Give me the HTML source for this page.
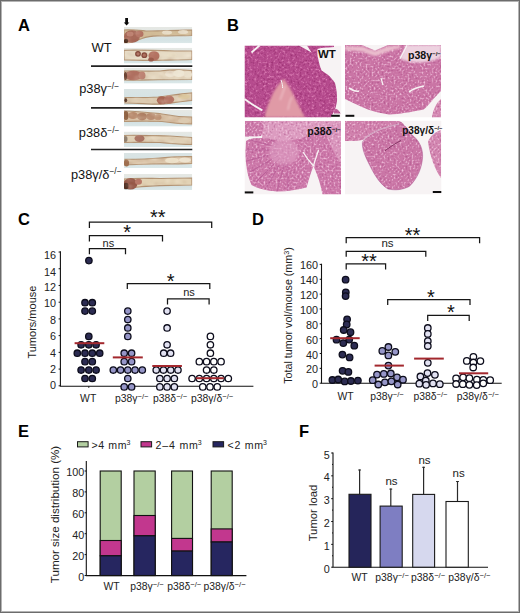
<!DOCTYPE html><html><head><meta charset="utf-8"><style>html,body{margin:0;padding:0;background:#fff;} svg{display:block} text{font-family:'Liberation Sans',sans-serif}</style></head><body>
<svg width="520" height="613" viewBox="0 0 520 613">
<defs>
<filter id="soft" x="0" y="0" width="100%" height="100%"><feGaussianBlur stdDeviation="0.35"/></filter>
<filter id="blur1" x="-10%" y="-10%" width="120%" height="120%"><feGaussianBlur stdDeviation="0.8"/></filter>
<filter id="blur2" x="-10%" y="-10%" width="120%" height="120%"><feGaussianBlur stdDeviation="1.2"/></filter>
<filter id="tex" x="0" y="0" width="100%" height="100%" color-interpolation-filters="sRGB">
 <feTurbulence type="fractalNoise" baseFrequency="0.42" numOctaves="3" seed="5" result="n"/>
 <feColorMatrix in="n" type="matrix" values="0 0 0 0 0.95  0 0 0 0 0.62  0 0 0 0 0.80  2.1 0 0 0 -1.16" result="lt"/>
 <feColorMatrix in="n" type="matrix" values="0 0 0 0 0.56  0 0 0 0 0.14  0 0 0 0 0.40  -2.2 0 0 0 0.98" result="dk"/>
 <feMerge result="ov"><feMergeNode in="dk"/><feMergeNode in="lt"/></feMerge>
 <feGaussianBlur in="ov" stdDeviation="0.6" result="ovb"/>
 <feComposite in="ovb" in2="SourceGraphic" operator="in" result="ov2"/>
 <feMerge><feMergeNode in="SourceGraphic"/><feMergeNode in="ov2"/></feMerge>
</filter>
<filter id="texB" x="0" y="0" width="100%" height="100%" color-interpolation-filters="sRGB">
 <feTurbulence type="fractalNoise" baseFrequency="0.5" numOctaves="3" seed="9" result="n"/>
 <feColorMatrix in="n" type="matrix" values="0 0 0 0 0.98  0 0 0 0 0.84  0 0 0 0 0.92  2.6 0 0 0 -1.36" result="lt"/>
 <feColorMatrix in="n" type="matrix" values="0 0 0 0 0.62  0 0 0 0 0.24  0 0 0 0 0.48  -2.0 0 0 0 0.82" result="dk"/>
 <feMerge result="ov"><feMergeNode in="dk"/><feMergeNode in="lt"/></feMerge>
 <feGaussianBlur in="ov" stdDeviation="0.5" result="ovb"/>
 <feComposite in="ovb" in2="SourceGraphic" operator="in" result="ov2"/>
 <feMerge><feMergeNode in="SourceGraphic"/><feMergeNode in="ov2"/></feMerge>
</filter>
<filter id="texP" x="-5%" y="-5%" width="110%" height="110%" color-interpolation-filters="sRGB">
 <feGaussianBlur in="SourceGraphic" stdDeviation="0.7" result="b"/>
 <feTurbulence type="fractalNoise" baseFrequency="0.12 0.35" numOctaves="2" seed="21" result="n"/>
 <feColorMatrix in="n" type="matrix" values="0 0 0 0 1  0 0 0 0 0.97  0 0 0 0 0.92  1.5 0 0 0 -0.82" result="lt"/>
 <feColorMatrix in="n" type="matrix" values="0 0 0 0 0.6  0 0 0 0 0.42  0 0 0 0 0.32  -1.5 0 0 0 0.6" result="dk"/>
 <feMerge result="ov"><feMergeNode in="dk"/><feMergeNode in="lt"/></feMerge>
 <feGaussianBlur in="ov" stdDeviation="0.8" result="ovb"/>
 <feComposite in="ovb" in2="b" operator="in" result="ov2"/>
 <feMerge><feMergeNode in="b"/><feMergeNode in="ov2"/></feMerge>
</filter>
</defs>
<rect x="0" y="0" width="520" height="613" fill="#fff"/>
<text x="18" y="30.5" font-size="16.5" text-anchor="start" font-weight="bold" fill="#000" >A</text>
<text x="227" y="30.5" font-size="16.5" text-anchor="start" font-weight="bold" fill="#000" >B</text>
<text x="18" y="225" font-size="16.5" text-anchor="start" font-weight="bold" fill="#000" >C</text>
<text x="252" y="225" font-size="16.5" text-anchor="start" font-weight="bold" fill="#000" >D</text>
<text x="18" y="437" font-size="16.5" text-anchor="start" font-weight="bold" fill="#000" >E</text>
<text x="299" y="437" font-size="16.5" text-anchor="start" font-weight="bold" fill="#000" >F</text>
<text x="91.5" y="51.8" font-size="13" text-anchor="start" font-weight="normal" fill="#111" >WT</text>
<text x="79.2" y="93.3" font-size="12.8" text-anchor="start" fill="#111">p38γ<tspan font-size="8.4" dy="-4.20">−/−</tspan></text>
<text x="78.8" y="137.2" font-size="12.8" text-anchor="start" fill="#111">p38δ<tspan font-size="8.4" dy="-4.20">−/−</tspan></text>
<text x="71.0" y="178.6" font-size="12.8" text-anchor="start" fill="#111">p38γ/δ<tspan font-size="8.4" dy="-4.20">−/−</tspan></text>
<line x1="91" y1="66.1" x2="192.3" y2="66.1" stroke="#222" stroke-width="1.7"/>
<line x1="91" y1="107.8" x2="192.3" y2="107.8" stroke="#222" stroke-width="1.7"/>
<line x1="91" y1="149.5" x2="192.3" y2="149.5" stroke="#222" stroke-width="1.7"/>
<path d="M125.2,17.9 h2.8 v4.6 h1.4 l-2.8,2.9 l-2.8,-2.9 h1.4 z" fill="#0a0a0a"/>
<defs><linearGradient id="sbg" x1="0" y1="0" x2="0" y2="1"><stop offset="0" stop-color="#e6e8e4"/><stop offset="0.4" stop-color="#e0e7e5"/><stop offset="0.75" stop-color="#d4e2e4"/><stop offset="1" stop-color="#dce8e8"/></linearGradient><linearGradient id="sbg2" x1="0" y1="0" x2="0" y2="1"><stop offset="0" stop-color="#dae4e4"/><stop offset="0.5" stop-color="#d6e3e4"/><stop offset="1" stop-color="#dae7e8"/></linearGradient><clipPath id="sclip"><rect x="124" y="0" width="68.2" height="200"/></clipPath></defs>
<g clip-path="url(#sclip)"><svg x="124" y="27" width="68.2" height="16.200000000000003" viewBox="124 27 68.2 16.200000000000003" preserveAspectRatio="none" overflow="hidden">
<rect x="124" y="27" width="68.2" height="16.200000000000003" fill="url(#sbg)"/>
<g filter="url(#texP)">
<path d="M124,30 C132,29.5 140,30.5 146,31 C160,31 175,30.5 192,30 L192,35.5 C182,36 172,35.5 163,36 C155,35.5 148,36 142,38.5 C137,40.5 132,42 128,43.2 L124,43.2 Z" fill="#d2bc98" stroke="#b39474" stroke-width="1.2"/>
<ellipse cx="167" cy="32.5" rx="5" ry="2" fill="#e8dcc6"/>
<ellipse cx="183" cy="32" rx="5" ry="2" fill="#e6dac4"/>
<ellipse cx="132" cy="36.5" rx="8" ry="6.2" fill="#a66656"/>
<ellipse cx="139.5" cy="34" rx="4" ry="3.3" fill="#b47464"/>
<ellipse cx="130" cy="34" rx="3.5" ry="2.5" fill="#c08474"/>
<ellipse cx="126" cy="41" rx="2.2" ry="2.2" fill="#4a2a1c"/>
</g></svg></g>
<g clip-path="url(#sclip)"><svg x="124" y="47.8" width="68.2" height="15.800000000000004" viewBox="124 47.8 68.2 15.800000000000004" preserveAspectRatio="none" overflow="hidden">
<rect x="124" y="47.8" width="68.2" height="15.800000000000004" fill="url(#sbg)"/>
<g filter="url(#texP)">
<path d="M124,50.3 C140,50 160,50.5 175,51 C182,51 188,51 192,51 L192,59.5 C180,60 165,60 150,60.3 C140,60.3 130,60 124,60 Z" fill="#e6dac4" stroke="#b39474" stroke-width="1.2"/>
<ellipse cx="172" cy="55" rx="5" ry="2.5" fill="#e8dcc4"/>
<ellipse cx="138" cy="53.8" rx="2.9" ry="2.9" fill="#7c3e30"/>
<ellipse cx="138" cy="53.8" rx="1.6" ry="1.6" fill="#a86656"/>
<ellipse cx="144.3" cy="55.2" rx="2.9" ry="2.9" fill="#84463a"/>
<ellipse cx="144.3" cy="55.2" rx="1.6" ry="1.6" fill="#b07060"/>
<ellipse cx="154" cy="56" rx="5.5" ry="4.8" fill="#b47262"/>
<ellipse cx="151" cy="59.5" rx="2.8" ry="2" fill="#9a5a4a"/>
</g></svg></g>
<g clip-path="url(#sclip)"><svg x="124" y="67.8" width="68.2" height="15.799999999999997" viewBox="124 67.8 68.2 15.799999999999997" preserveAspectRatio="none" overflow="hidden">
<rect x="124" y="67.8" width="68.2" height="15.799999999999997" fill="url(#sbg)"/>
<g filter="url(#texP)">
<path d="M124,71.2 C135,70.5 150,71.5 160,71 C170,69.5 180,69.5 192,70.5 L192,79.5 C180,79.5 165,79.5 150,79.8 C140,80 130,80.2 124,80 Z" fill="#e4d6be" stroke="#b39474" stroke-width="1.2"/>
<ellipse cx="170" cy="74" rx="5" ry="3.2" fill="#ece2d0"/>
<ellipse cx="179" cy="73.5" rx="6" ry="3.6" fill="#eee6d4"/>
<ellipse cx="188" cy="74.5" rx="4" ry="3.2" fill="#eae0cc"/>
<ellipse cx="133.5" cy="75.5" rx="9" ry="4.8" fill="#b07060"/>
<ellipse cx="142" cy="75.5" rx="3.5" ry="4" fill="#be8474"/>
<ellipse cx="125.5" cy="76" rx="1.6" ry="4" fill="#6a4030"/>
</g></svg></g>
<g clip-path="url(#sclip)"><svg x="124" y="89" width="68.2" height="16" viewBox="124 89 68.2 16" preserveAspectRatio="none" overflow="hidden">
<rect x="124" y="89" width="68.2" height="16" fill="url(#sbg2)"/>
<g filter="url(#texP)">
<path d="M125,97.5 C140,97.5 150,97.6 158,97 C170,95.5 180,93.8 192,92.8 L192,100.5 C180,101.5 170,103.5 160,104.2 C145,103.8 135,103 125,103 Z" fill="#dccab0" stroke="#b39474" stroke-width="1.2"/>
<ellipse cx="184" cy="96.5" rx="6" ry="2.5" fill="#dcc8a0"/>
<ellipse cx="162" cy="100.3" rx="5.2" ry="4" fill="#a66250"/>
<ellipse cx="169" cy="99.6" rx="5.2" ry="4" fill="#b47464"/>
<ellipse cx="125.8" cy="100.2" rx="1.4" ry="2" fill="#5a3a2a"/>
</g></svg></g>
<g clip-path="url(#sclip)"><svg x="124" y="110" width="68.2" height="16.599999999999994" viewBox="124 110 68.2 16.599999999999994" preserveAspectRatio="none" overflow="hidden">
<rect x="124" y="110" width="68.2" height="16.599999999999994" fill="url(#sbg)"/>
<g filter="url(#texP)">
<path d="M124,111 C140,111.5 152,113 162,114 C172,116 180,117 192,117 L192,124 C180,124 172,123 162,121.5 C150,121 135,121 124,121.5 Z" fill="#d8c0a4" stroke="#b39474" stroke-width="1.2"/>
<ellipse cx="184" cy="120.5" rx="6" ry="2.8" fill="#dccab0"/>
<ellipse cx="126" cy="115.5" rx="2.5" ry="4.5" fill="#8e6040"/>
<ellipse cx="133" cy="115.5" rx="5" ry="3.6" fill="#b88a6c"/>
<ellipse cx="142" cy="116.5" rx="5" ry="3.8" fill="#b08266"/>
<ellipse cx="151" cy="116.5" rx="4.5" ry="3.4" fill="#b88c70"/>
<ellipse cx="158" cy="117.3" rx="3.5" ry="3" fill="#c09678"/>
</g></svg></g>
<g clip-path="url(#sclip)"><svg x="124" y="131.6" width="68.2" height="15.400000000000006" viewBox="124 131.6 68.2 15.400000000000006" preserveAspectRatio="none" overflow="hidden">
<rect x="124" y="131.6" width="68.2" height="15.400000000000006" fill="url(#sbg)"/>
<g filter="url(#texP)">
<path d="M124,135.5 C140,135 155,135.8 170,136 C180,136.5 186,137 192,137.5 L192,144.5 C180,144.5 170,143.5 160,142.5 C145,142.3 135,142.5 124,142.5 Z" fill="#e0d0b6" stroke="#b39474" stroke-width="1.2"/>
<ellipse cx="139.5" cy="138.5" rx="5" ry="3.4" fill="#a87060"/>
<ellipse cx="125.5" cy="139" rx="2" ry="3" fill="#908070"/>
</g></svg></g>
<g clip-path="url(#sclip)"><svg x="124" y="153" width="68.2" height="15" viewBox="124 153 68.2 15" preserveAspectRatio="none" overflow="hidden">
<rect x="124" y="153" width="68.2" height="15" fill="url(#sbg2)"/>
<g filter="url(#texP)">
<path d="M125,159.3 C140,159.3 150,159 160,158 C172,157 182,156.5 192,156.7 L192,163.5 C180,163.7 170,163.9 160,163.9 C145,164.1 135,164 125,165 Z" fill="#dcc6aa" stroke="#b39474" stroke-width="1.2"/>
<ellipse cx="172" cy="160.5" rx="7" ry="2.8" fill="#ece0c8"/>
<ellipse cx="185" cy="160" rx="6" ry="2.6" fill="#eee4d0"/>
<ellipse cx="126.5" cy="163" rx="2.6" ry="3.6" fill="#a07050"/>
</g></svg></g>
<g clip-path="url(#sclip)"><svg x="124" y="174" width="68.2" height="16" viewBox="124 174 68.2 16" preserveAspectRatio="none" overflow="hidden">
<rect x="124" y="174" width="68.2" height="16" fill="url(#sbg)"/>
<g filter="url(#texP)">
<path d="M124,179 C135,178 150,178.5 160,178.5 C172,178 182,178 192,178 L192,185 C180,185.2 170,185.4 160,185.6 C150,186 140,186.5 124,188.5 Z" fill="#e2d2b4" stroke="#b39474" stroke-width="1.2"/>
<ellipse cx="130.5" cy="183.8" rx="7" ry="5.8" fill="#945646"/>
<ellipse cx="126" cy="186" rx="2.5" ry="3.2" fill="#4e2c20"/>
<ellipse cx="138.5" cy="181.8" rx="3.5" ry="3" fill="#b87868"/>
</g></svg></g>
<svg x="244.5" y="45.5" width="97" height="72" viewBox="244.5 45.5 97 72" overflow="hidden">
<rect x="244.5" y="45.5" width="97" height="72" fill="#f7f3f4"/>
<g filter="url(#soft)">

<g filter="url(#tex)">
<path d="M244.5,45.5 L334,45.5 L334,47 C326,47.5 320,48 317.5,49 C317,53 317.5,56 318,58 C319,63 320,67 321.6,70.6 C324,72.5 326,73.5 327.8,74.7 C330.5,77 333,80 335,83 C336.5,89 337.3,95 337,101 C336.5,105 335.5,108 334,111.4 C332.5,114 331.5,116 331,117.5 L244.5,117.5 Z" fill="#b64c8e"/>
<path d="M334,109 C336,108 339,110 340.5,113.5 L334,113.5 Z" fill="#c0609a"/>
</g>
<g filter="url(#blur1)">
<path d="M264.5,117.5 C266,110 268,104 270,100 C272,95 274,91 276,88 C279,84 282,80 284,79 C287,83 290,88 292,92 C294.5,97 296.5,101 298,104 C300.5,109 303,114 305,117.5 Z" fill="#e09aa6"/>
<path d="M280,100 C282,95 284,90 285,86 M288,110 C289,104 290,100 292,97" stroke="#eec2c8" stroke-width="1.2" fill="none"/>
</g>
<path d="M251.5,52.5 L259.5,45.5" stroke="#f7f3f4" stroke-width="1.8"/>
<path d="M299,45.5 L307,45.5 L311.5,52.6 Z" fill="#f7f3f4"/>
<path d="M244.5,99 C250,103 256,107 262.4,110.4" stroke="#f7f3f4" stroke-width="1.8" fill="none"/>
<path d="M281,80 C282,83 283,86 282.5,88" stroke="#f7f3f4" stroke-width="1.0" fill="none"/>
<rect x="331.2" y="114.8" width="8.6" height="2" fill="#111"/>

</g>
</svg>
<text x="318" y="58.4" font-size="11.5" text-anchor="start" font-weight="bold" fill="#111" >WT</text>
<svg x="345" y="45" width="96" height="72.5" viewBox="345 45 96 72.5" overflow="hidden">
<rect x="345" y="45" width="96" height="72.5" fill="#f7f3f4"/>
<g filter="url(#soft)">

<g filter="url(#texB)">
<path d="M345,45 L441,45 L441,91 C437,95 434,98 431.8,101 C428,105 426,108 423.6,109.4 C410,112 400,114 389,114.5 C378,113 368,110 362,107 C355,104 350,101 345,99 Z" fill="#ca74a5"/>
<path d="M432,117.5 C433,110 436,103 441,99 L441,117.5 Z" fill="#d286b0"/>
</g>
<path d="M345,46.5 L362,46.5 C366,48 371,50 375,51 C379,50 383,48 387,46.5 L400,45.5 L400,48.5 C394,49.5 389,51 385,52.5 C381,54 378,55.5 375,56 C371,55.5 367,53.5 363,51.8 C357,50.8 351,50.5 345,50.5 Z" fill="#eabdcd" filter="url(#blur1)"/>
<path d="M362,45 L375,50.6 L388,45 Z" fill="#f7f3f4"/>
<path d="M406,45 L441,45 L441,57 C436,60 430,62 420,62.5 C412,62.5 405,61 400,58.8 Z" fill="#edd2e0" filter="url(#blur1)"/>
<path d="M407,45.2 L400,58.8" stroke="#f7f3f4" stroke-width="1.4"/>
<path d="M349,88 C352,90 355,92 359,91" stroke="#f7f3f4" stroke-width="1.6" fill="none"/>
<path d="M409,92 C413,89 418,87 424,86" stroke="#f7f3f4" stroke-width="1.6" fill="none"/>
<path d="M381,78 L383,85" stroke="#f7f3f4" stroke-width="1.2" fill="none"/>
<rect x="345.5" y="114.8" width="8.8" height="2" fill="#111"/>

</g>
</svg>
<text x="408" y="59.3" font-size="10.6" text-anchor="start" fill="#111"><tspan font-weight="bold">p38γ</tspan><tspan font-size="6" dy="-3.80"><tspan font-weight="bold">−/−</tspan></tspan></text>
<svg x="244.5" y="120.5" width="96.5" height="74.1" viewBox="244.5 120.5 96.5 74.1" overflow="hidden">
<rect x="244.5" y="120.5" width="96.5" height="74.1" fill="#f7f3f4"/>
<g filter="url(#soft)">

<g filter="url(#texB)">
<path d="M262,121 L341,121 L341,132 C330,134 320,137 310,138 C300,140 290,141 280,140 C272,139.5 266,139 262,138.5 Z" fill="#dc9cc0"/>
<path d="M245,121 L262,121 C264,126 264,132 261,136 C256,137 250,137 245,136.5 Z" fill="#cc7aaa"/>
<path d="M246,141 C250,138.5 256,137.5 264,138.3 C272,139 282,141 292,140 C302,139 312,134 322,130 C330,127 336,126 341,126 L341,194.6 L322.5,194.6 C321,186 318,176 313.5,166 C310.5,173 308.5,181 306.5,187.6 C298,190 288,191.5 277,191.5 C266,190.8 257,188.5 251.5,185 C247.5,176 245.5,165 245.5,152 Z" fill="#cc78a9"/>
<path d="M326,125 C333,124 338,124 341,124 L341,165 C337,158 333,150 329,142 C326,136 324,130 326,125 Z" fill="#d995bc"/>
</g>
<clipPath id="dclip"><path d="M246,141 C250,138.5 256,137.5 264,138.3 C272,139 282,141 292,140 C302,139 312,134 322,130 C330,127 336,126 341,126 L341,194.6 L322.5,194.6 C321,186 318,176 313.5,166 C310.5,173 308.5,181 306.5,187.6 C298,190 288,191.5 277,191.5 C266,190.8 257,188.5 251.5,185 C247.5,176 245.5,165 245.5,152 Z"/></clipPath>
<g clip-path="url(#dclip)"><path d="M277.6,144.0 L249.0,127.5 M276.4,146.9 L244.5,138.4 M276.0,150.0 L243.0,150.0 M276.4,153.1 L244.5,161.6 M277.6,156.0 L249.0,172.5 M279.5,158.5 L256.2,181.8 M282.0,160.4 L265.5,189.0 M284.9,161.6 L276.4,193.5 M288.0,162.0 L288.0,195.0" stroke="#9c3c80" stroke-width="0.8" opacity="0.45" fill="none"/>
</g>
<ellipse cx="284" cy="152" rx="15" ry="13" fill="#e2a6c8" opacity="0.55" filter="url(#blur2)"/>
<path d="M249,137 C253,137.3 257,137.5 261,137.2" stroke="#f7f3f4" stroke-width="1.3" fill="none"/>
<path d="M303,152 C306,157 309,161 313.5,166 M313.5,166 C315,160 317,155 318.5,150" stroke="#f7f3f4" stroke-width="1.3" fill="none"/>
<rect x="244.5" y="191.4" width="8.8" height="2" fill="#111"/>

</g>
</svg>
<text x="307.3" y="135.1" font-size="10.6" text-anchor="start" fill="#111"><tspan font-weight="bold">p38δ</tspan><tspan font-size="6" dy="-3.60"><tspan font-weight="bold">−/−</tspan></tspan></text>
<svg x="345" y="120.5" width="96.5" height="74.1" viewBox="345 120.5 96.5 74.1" overflow="hidden">
<rect x="345" y="120.5" width="96.5" height="74.1" fill="#f7f3f4"/>
<g filter="url(#soft)">

<g filter="url(#texB)">
<path d="M345,121 L399,121 C404,123 406,126 402,129 C395,131 385,133 376,136 C368,139 360,141 350,141 L345,141 Z" fill="#d080ac"/>
<path d="M362.4,142.5 C365,135 380,128 399,124 C405,124 409,130 411.4,134.4 C419,140 423,148 422.6,157 C422,167 418,178 409.3,186.4 C402,190 395,190.5 388,189 C381,185 375,176 370.6,167 C366,158 362,150 362.4,142.5 Z" fill="#ca76a6"/>
<path d="M441,130 L441,178 C435,170 430,156 428,142 C430,136 435,132 441,130 Z" fill="#d286b0"/>
</g>
<path d="M385,150.7 C390,147 396,143 401,140.5" stroke="#7a2a5a" stroke-width="0.9" fill="none"/>
<path d="M362.4,142.5 C365,135 380,128 399,124" stroke="#f3e6ec" stroke-width="1.1" fill="none"/>
<path d="M362.4,142.5 C365,135 380,128 399,124 C405,124 409,130 411.4,134.4 C419,140 423,148 422.6,157 C422,167 418,178 409.3,186.4 C402,190 395,190.5 388,189 C381,185 375,176 370.6,167 C366,158 362,150 362.4,142.5 Z" stroke="#a8508c" stroke-width="0.7" fill="none" opacity="0.7"/>
<rect x="432.8" y="191" width="8.8" height="2" fill="#111"/>

</g>
</svg>
<text x="402.2" y="133.6" font-size="10.1" text-anchor="start" fill="#111"><tspan font-weight="bold">p38γ/δ</tspan><tspan font-size="5.8" dy="-3.60"><tspan font-weight="bold">−/−</tspan></tspan></text>
<path d="M60.4,251.3 V386.2 H253.4" fill="none" stroke="#111" stroke-width="1.1"/>
<line x1="58.6" y1="385.80" x2="60.4" y2="385.80" stroke="#111" stroke-width="1"/>
<text x="56" y="388.5" font-size="10.8" text-anchor="end" font-weight="normal" fill="#222" >0</text>
<line x1="58.6" y1="369.08" x2="60.4" y2="369.08" stroke="#111" stroke-width="1"/>
<text x="56" y="372.5" font-size="10.8" text-anchor="end" font-weight="normal" fill="#222" >2</text>
<line x1="58.6" y1="352.36" x2="60.4" y2="352.36" stroke="#111" stroke-width="1"/>
<text x="56" y="356.7" font-size="10.8" text-anchor="end" font-weight="normal" fill="#222" >4</text>
<line x1="58.6" y1="335.64" x2="60.4" y2="335.64" stroke="#111" stroke-width="1"/>
<text x="56" y="340.09999999999997" font-size="10.8" text-anchor="end" font-weight="normal" fill="#222" >6</text>
<line x1="58.6" y1="318.92" x2="60.4" y2="318.92" stroke="#111" stroke-width="1"/>
<text x="56" y="323.79999999999995" font-size="10.8" text-anchor="end" font-weight="normal" fill="#222" >8</text>
<line x1="58.6" y1="302.20" x2="60.4" y2="302.20" stroke="#111" stroke-width="1"/>
<text x="56" y="306.9" font-size="10.8" text-anchor="end" font-weight="normal" fill="#222" >10</text>
<line x1="58.6" y1="285.48" x2="60.4" y2="285.48" stroke="#111" stroke-width="1"/>
<text x="56" y="291.4" font-size="10.8" text-anchor="end" font-weight="normal" fill="#222" >12</text>
<line x1="58.6" y1="268.76" x2="60.4" y2="268.76" stroke="#111" stroke-width="1"/>
<text x="56" y="275.7" font-size="10.8" text-anchor="end" font-weight="normal" fill="#222" >14</text>
<line x1="58.6" y1="252.04" x2="60.4" y2="252.04" stroke="#111" stroke-width="1"/>
<text x="56" y="259.2" font-size="10.8" text-anchor="end" font-weight="normal" fill="#222" >16</text>
<line x1="88.8" y1="386.2" x2="88.8" y2="388" stroke="#111" stroke-width="0.8"/>
<line x1="127.8" y1="386.2" x2="127.8" y2="388" stroke="#111" stroke-width="0.8"/>
<line x1="167.1" y1="386.2" x2="167.1" y2="388" stroke="#111" stroke-width="0.8"/>
<line x1="210.2" y1="386.2" x2="210.2" y2="388" stroke="#111" stroke-width="0.8"/>
<text transform="translate(35.8,322.1) rotate(-90)" font-size="11" text-anchor="middle" fill="#222">Tumors/mouse</text>
<circle cx="88.90" cy="260.60" r="3.2" fill="#2c2c52" stroke="#0d0d1c" stroke-width="1.3"/>
<circle cx="85.00" cy="302.70" r="3.2" fill="#2c2c52" stroke="#0d0d1c" stroke-width="1.3"/>
<circle cx="92.30" cy="302.70" r="3.2" fill="#2c2c52" stroke="#0d0d1c" stroke-width="1.3"/>
<circle cx="85.00" cy="311.12" r="3.2" fill="#2c2c52" stroke="#0d0d1c" stroke-width="1.3"/>
<circle cx="92.30" cy="311.12" r="3.2" fill="#2c2c52" stroke="#0d0d1c" stroke-width="1.3"/>
<circle cx="88.80" cy="336.38" r="3.2" fill="#2c2c52" stroke="#0d0d1c" stroke-width="1.3"/>
<circle cx="81.10" cy="344.80" r="3.2" fill="#2c2c52" stroke="#0d0d1c" stroke-width="1.3"/>
<circle cx="88.80" cy="344.80" r="3.2" fill="#2c2c52" stroke="#0d0d1c" stroke-width="1.3"/>
<circle cx="96.10" cy="344.80" r="3.2" fill="#2c2c52" stroke="#0d0d1c" stroke-width="1.3"/>
<circle cx="77.30" cy="353.22" r="3.2" fill="#2c2c52" stroke="#0d0d1c" stroke-width="1.3"/>
<circle cx="85.00" cy="353.22" r="3.2" fill="#2c2c52" stroke="#0d0d1c" stroke-width="1.3"/>
<circle cx="92.30" cy="353.22" r="3.2" fill="#2c2c52" stroke="#0d0d1c" stroke-width="1.3"/>
<circle cx="99.70" cy="353.22" r="3.2" fill="#2c2c52" stroke="#0d0d1c" stroke-width="1.3"/>
<circle cx="85.00" cy="361.64" r="3.2" fill="#2c2c52" stroke="#0d0d1c" stroke-width="1.3"/>
<circle cx="92.30" cy="361.64" r="3.2" fill="#2c2c52" stroke="#0d0d1c" stroke-width="1.3"/>
<circle cx="81.10" cy="370.06" r="3.2" fill="#2c2c52" stroke="#0d0d1c" stroke-width="1.3"/>
<circle cx="88.80" cy="370.06" r="3.2" fill="#2c2c52" stroke="#0d0d1c" stroke-width="1.3"/>
<circle cx="96.10" cy="370.06" r="3.2" fill="#2c2c52" stroke="#0d0d1c" stroke-width="1.3"/>
<circle cx="85.00" cy="378.48" r="3.2" fill="#2c2c52" stroke="#0d0d1c" stroke-width="1.3"/>
<circle cx="92.30" cy="378.48" r="3.2" fill="#2c2c52" stroke="#0d0d1c" stroke-width="1.3"/>
<circle cx="127.80" cy="311.12" r="3.2" fill="#9696c8" stroke="#0d0d1c" stroke-width="1.3"/>
<circle cx="127.80" cy="319.54" r="3.2" fill="#9696c8" stroke="#0d0d1c" stroke-width="1.3"/>
<circle cx="127.80" cy="327.96" r="3.2" fill="#9696c8" stroke="#0d0d1c" stroke-width="1.3"/>
<circle cx="127.80" cy="336.38" r="3.2" fill="#9696c8" stroke="#0d0d1c" stroke-width="1.3"/>
<circle cx="124.20" cy="353.22" r="3.2" fill="#9696c8" stroke="#0d0d1c" stroke-width="1.3"/>
<circle cx="131.60" cy="353.22" r="3.2" fill="#9696c8" stroke="#0d0d1c" stroke-width="1.3"/>
<circle cx="124.20" cy="361.64" r="3.2" fill="#9696c8" stroke="#0d0d1c" stroke-width="1.3"/>
<circle cx="131.60" cy="361.64" r="3.2" fill="#9696c8" stroke="#0d0d1c" stroke-width="1.3"/>
<circle cx="113.30" cy="370.06" r="3.2" fill="#9696c8" stroke="#0d0d1c" stroke-width="1.3"/>
<circle cx="120.55" cy="370.06" r="3.2" fill="#9696c8" stroke="#0d0d1c" stroke-width="1.3"/>
<circle cx="127.80" cy="370.06" r="3.2" fill="#9696c8" stroke="#0d0d1c" stroke-width="1.3"/>
<circle cx="135.05" cy="370.06" r="3.2" fill="#9696c8" stroke="#0d0d1c" stroke-width="1.3"/>
<circle cx="142.30" cy="370.06" r="3.2" fill="#9696c8" stroke="#0d0d1c" stroke-width="1.3"/>
<circle cx="127.80" cy="378.48" r="3.2" fill="#9696c8" stroke="#0d0d1c" stroke-width="1.3"/>
<circle cx="124.20" cy="386.90" r="3.2" fill="#9696c8" stroke="#0d0d1c" stroke-width="1.3"/>
<circle cx="131.60" cy="386.90" r="3.2" fill="#9696c8" stroke="#0d0d1c" stroke-width="1.3"/>
<circle cx="167.10" cy="311.12" r="3.2" fill="#e2e2f2" stroke="#0d0d1c" stroke-width="1.3"/>
<circle cx="167.10" cy="327.96" r="3.2" fill="#e2e2f2" stroke="#0d0d1c" stroke-width="1.3"/>
<circle cx="167.10" cy="344.80" r="3.2" fill="#e2e2f2" stroke="#0d0d1c" stroke-width="1.3"/>
<circle cx="163.70" cy="353.22" r="3.2" fill="#e2e2f2" stroke="#0d0d1c" stroke-width="1.3"/>
<circle cx="170.60" cy="353.22" r="3.2" fill="#e2e2f2" stroke="#0d0d1c" stroke-width="1.3"/>
<circle cx="156.22" cy="370.06" r="3.2" fill="#e2e2f2" stroke="#0d0d1c" stroke-width="1.3"/>
<circle cx="163.47" cy="370.06" r="3.2" fill="#e2e2f2" stroke="#0d0d1c" stroke-width="1.3"/>
<circle cx="170.72" cy="370.06" r="3.2" fill="#e2e2f2" stroke="#0d0d1c" stroke-width="1.3"/>
<circle cx="177.97" cy="370.06" r="3.2" fill="#e2e2f2" stroke="#0d0d1c" stroke-width="1.3"/>
<circle cx="159.85" cy="378.48" r="3.2" fill="#e2e2f2" stroke="#0d0d1c" stroke-width="1.3"/>
<circle cx="167.10" cy="378.48" r="3.2" fill="#e2e2f2" stroke="#0d0d1c" stroke-width="1.3"/>
<circle cx="174.35" cy="378.48" r="3.2" fill="#e2e2f2" stroke="#0d0d1c" stroke-width="1.3"/>
<circle cx="159.85" cy="386.90" r="3.2" fill="#e2e2f2" stroke="#0d0d1c" stroke-width="1.3"/>
<circle cx="167.10" cy="386.90" r="3.2" fill="#e2e2f2" stroke="#0d0d1c" stroke-width="1.3"/>
<circle cx="174.35" cy="386.90" r="3.2" fill="#e2e2f2" stroke="#0d0d1c" stroke-width="1.3"/>
<circle cx="210.40" cy="336.38" r="3.2" fill="#ffffff" stroke="#0d0d1c" stroke-width="1.3"/>
<circle cx="210.40" cy="344.80" r="3.2" fill="#ffffff" stroke="#0d0d1c" stroke-width="1.3"/>
<circle cx="210.40" cy="353.22" r="3.2" fill="#ffffff" stroke="#0d0d1c" stroke-width="1.3"/>
<circle cx="199.32" cy="361.64" r="3.2" fill="#ffffff" stroke="#0d0d1c" stroke-width="1.3"/>
<circle cx="206.57" cy="361.64" r="3.2" fill="#ffffff" stroke="#0d0d1c" stroke-width="1.3"/>
<circle cx="213.82" cy="361.64" r="3.2" fill="#ffffff" stroke="#0d0d1c" stroke-width="1.3"/>
<circle cx="221.07" cy="361.64" r="3.2" fill="#ffffff" stroke="#0d0d1c" stroke-width="1.3"/>
<circle cx="206.57" cy="370.06" r="3.2" fill="#ffffff" stroke="#0d0d1c" stroke-width="1.3"/>
<circle cx="213.82" cy="370.06" r="3.2" fill="#ffffff" stroke="#0d0d1c" stroke-width="1.3"/>
<circle cx="192.07" cy="378.48" r="3.2" fill="#ffffff" stroke="#0d0d1c" stroke-width="1.3"/>
<circle cx="199.32" cy="378.48" r="3.2" fill="#ffffff" stroke="#0d0d1c" stroke-width="1.3"/>
<circle cx="206.57" cy="378.48" r="3.2" fill="#ffffff" stroke="#0d0d1c" stroke-width="1.3"/>
<circle cx="213.82" cy="378.48" r="3.2" fill="#ffffff" stroke="#0d0d1c" stroke-width="1.3"/>
<circle cx="221.07" cy="378.48" r="3.2" fill="#ffffff" stroke="#0d0d1c" stroke-width="1.3"/>
<circle cx="228.32" cy="378.48" r="3.2" fill="#ffffff" stroke="#0d0d1c" stroke-width="1.3"/>
<circle cx="202.75" cy="386.90" r="3.2" fill="#ffffff" stroke="#0d0d1c" stroke-width="1.3"/>
<circle cx="210.00" cy="386.90" r="3.2" fill="#ffffff" stroke="#0d0d1c" stroke-width="1.3"/>
<circle cx="217.25" cy="386.90" r="3.2" fill="#ffffff" stroke="#0d0d1c" stroke-width="1.3"/>
<line x1="74.6" y1="343.2" x2="104.3" y2="343.2" stroke="#a3282e" stroke-width="2.0"/>
<line x1="112.8" y1="357.4" x2="142.8" y2="357.4" stroke="#a3282e" stroke-width="2.0"/>
<line x1="152.3" y1="366" x2="181.9" y2="366" stroke="#a3282e" stroke-width="2.0"/>
<line x1="196" y1="378.2" x2="223.8" y2="378.2" stroke="#a3282e" stroke-width="2.0"/>
<path d="M89.4,227.9 V222 H211.7 V227.9" fill="none" stroke="#161616" stroke-width="1.25"/>
<path d="M89.4,241.6 V235.7 H162.5 V241.6" fill="none" stroke="#161616" stroke-width="1.25"/>
<path d="M89.4,254.29999999999998 V248.6 H125.5 V254.29999999999998" fill="none" stroke="#161616" stroke-width="1.25"/>
<path d="M127.3,288.90000000000003 V283.6 H209.8 V288.90000000000003" fill="none" stroke="#161616" stroke-width="1.25"/>
<path d="M167.5,304.40000000000003 V298.8 H209.1 V304.40000000000003" fill="none" stroke="#161616" stroke-width="1.25"/>
<text x="157.7" y="224.4" font-size="20" text-anchor="middle" font-weight="normal" fill="#111" >**</text>
<text x="127.2" y="238.9" font-size="20" text-anchor="middle" font-weight="normal" fill="#111" >*</text>
<text x="108.4" y="246.6" font-size="11" text-anchor="middle" font-weight="normal" fill="#222" >ns</text>
<text x="170.7" y="287.6" font-size="20" text-anchor="middle" font-weight="normal" fill="#111" >*</text>
<text x="189" y="295.8" font-size="11" text-anchor="middle" font-weight="normal" fill="#222" >ns</text>
<text x="88.2" y="401.5" font-size="10.4" text-anchor="middle" font-weight="normal" fill="#222" >WT</text>
<text x="115" y="401.5" font-size="10.4" text-anchor="start" fill="#222">p38γ<tspan font-size="7.6" dy="-3.00">−/−</tspan></text>
<text x="153" y="401.5" font-size="10.4" text-anchor="start" fill="#222">p38δ<tspan font-size="7.6" dy="-3.00">−/−</tspan></text>
<text x="191" y="401.5" font-size="10.4" text-anchor="start" fill="#222">p38γ/δ<tspan font-size="7.6" dy="-3.00">−/−</tspan></text>
<path d="M321.5,263.7 V383.3 H501.7" fill="none" stroke="#111" stroke-width="1.1"/>
<line x1="319.7" y1="383.20" x2="321.5" y2="383.20" stroke="#111" stroke-width="1"/>
<text x="318" y="388.2" font-size="10.8" text-anchor="end" font-weight="normal" fill="#222" >0</text>
<line x1="319.7" y1="368.35" x2="321.5" y2="368.35" stroke="#111" stroke-width="1"/>
<text x="318" y="373.34999999999997" font-size="10.8" text-anchor="end" font-weight="normal" fill="#222" >20</text>
<line x1="319.7" y1="353.50" x2="321.5" y2="353.50" stroke="#111" stroke-width="1"/>
<text x="318" y="358.5" font-size="10.8" text-anchor="end" font-weight="normal" fill="#222" >40</text>
<line x1="319.7" y1="338.65" x2="321.5" y2="338.65" stroke="#111" stroke-width="1"/>
<text x="318" y="343.65" font-size="10.8" text-anchor="end" font-weight="normal" fill="#222" >60</text>
<line x1="319.7" y1="323.80" x2="321.5" y2="323.80" stroke="#111" stroke-width="1"/>
<text x="318" y="328.79999999999995" font-size="10.8" text-anchor="end" font-weight="normal" fill="#222" >80</text>
<line x1="319.7" y1="308.95" x2="321.5" y2="308.95" stroke="#111" stroke-width="1"/>
<text x="318" y="313.95" font-size="10.8" text-anchor="end" font-weight="normal" fill="#222" >100</text>
<line x1="319.7" y1="294.10" x2="321.5" y2="294.10" stroke="#111" stroke-width="1"/>
<text x="318" y="299.09999999999997" font-size="10.8" text-anchor="end" font-weight="normal" fill="#222" >120</text>
<line x1="319.7" y1="279.25" x2="321.5" y2="279.25" stroke="#111" stroke-width="1"/>
<text x="318" y="284.25" font-size="10.8" text-anchor="end" font-weight="normal" fill="#222" >140</text>
<line x1="319.7" y1="264.40" x2="321.5" y2="264.40" stroke="#111" stroke-width="1"/>
<text x="318" y="269.4" font-size="10.8" text-anchor="end" font-weight="normal" fill="#222" >160</text>
<line x1="345.6" y1="383.3" x2="345.6" y2="385" stroke="#111" stroke-width="0.8"/>
<line x1="388.4" y1="383.3" x2="388.4" y2="385" stroke="#111" stroke-width="0.8"/>
<line x1="427.8" y1="383.3" x2="427.8" y2="385" stroke="#111" stroke-width="0.8"/>
<line x1="473.3" y1="383.3" x2="473.3" y2="385" stroke="#111" stroke-width="0.8"/>
<text transform="translate(292.4,315.5) rotate(-90)" font-size="10.7" text-anchor="middle" fill="#222">Total tumor vol/mouse (mm<tspan font-size="7.2" dy="-3.8">3</tspan><tspan dy="3.8">)</tspan></text>
<circle cx="345.60" cy="279.70" r="3.25" fill="#2c2c52" stroke="#0d0d1c" stroke-width="1.3"/>
<circle cx="345.80" cy="292.30" r="3.25" fill="#2c2c52" stroke="#0d0d1c" stroke-width="1.3"/>
<circle cx="345.60" cy="296.10" r="3.25" fill="#2c2c52" stroke="#0d0d1c" stroke-width="1.3"/>
<circle cx="347.10" cy="319.30" r="3.25" fill="#2c2c52" stroke="#0d0d1c" stroke-width="1.3"/>
<circle cx="346.70" cy="324.40" r="3.25" fill="#2c2c52" stroke="#0d0d1c" stroke-width="1.3"/>
<circle cx="343.70" cy="330.00" r="3.25" fill="#2c2c52" stroke="#0d0d1c" stroke-width="1.3"/>
<circle cx="350.50" cy="332.20" r="3.25" fill="#2c2c52" stroke="#0d0d1c" stroke-width="1.3"/>
<circle cx="336.50" cy="339.70" r="3.25" fill="#2c2c52" stroke="#0d0d1c" stroke-width="1.3"/>
<circle cx="349.20" cy="339.60" r="3.25" fill="#2c2c52" stroke="#0d0d1c" stroke-width="1.3"/>
<circle cx="343.30" cy="343.10" r="3.25" fill="#2c2c52" stroke="#0d0d1c" stroke-width="1.3"/>
<circle cx="354.30" cy="345.70" r="3.25" fill="#2c2c52" stroke="#0d0d1c" stroke-width="1.3"/>
<circle cx="342.40" cy="354.60" r="3.25" fill="#2c2c52" stroke="#0d0d1c" stroke-width="1.3"/>
<circle cx="349.60" cy="357.40" r="3.25" fill="#2c2c52" stroke="#0d0d1c" stroke-width="1.3"/>
<circle cx="342.60" cy="370.80" r="3.25" fill="#2c2c52" stroke="#0d0d1c" stroke-width="1.3"/>
<circle cx="348.40" cy="371.90" r="3.25" fill="#2c2c52" stroke="#0d0d1c" stroke-width="1.3"/>
<circle cx="332.40" cy="380.00" r="3.25" fill="#2c2c52" stroke="#0d0d1c" stroke-width="1.3"/>
<circle cx="338.20" cy="379.50" r="3.25" fill="#2c2c52" stroke="#0d0d1c" stroke-width="1.3"/>
<circle cx="344.70" cy="381.40" r="3.25" fill="#2c2c52" stroke="#0d0d1c" stroke-width="1.3"/>
<circle cx="350.90" cy="381.00" r="3.25" fill="#2c2c52" stroke="#0d0d1c" stroke-width="1.3"/>
<circle cx="357.90" cy="380.60" r="3.25" fill="#2c2c52" stroke="#0d0d1c" stroke-width="1.3"/>
<circle cx="388.40" cy="347.00" r="3.25" fill="#9696c8" stroke="#0d0d1c" stroke-width="1.3"/>
<circle cx="382.30" cy="350.90" r="3.25" fill="#9696c8" stroke="#0d0d1c" stroke-width="1.3"/>
<circle cx="395.30" cy="351.80" r="3.25" fill="#9696c8" stroke="#0d0d1c" stroke-width="1.3"/>
<circle cx="388.40" cy="355.40" r="3.25" fill="#9696c8" stroke="#0d0d1c" stroke-width="1.3"/>
<circle cx="388.40" cy="365.60" r="3.25" fill="#9696c8" stroke="#0d0d1c" stroke-width="1.3"/>
<circle cx="377.00" cy="374.60" r="3.25" fill="#9696c8" stroke="#0d0d1c" stroke-width="1.3"/>
<circle cx="383.80" cy="373.90" r="3.25" fill="#9696c8" stroke="#0d0d1c" stroke-width="1.3"/>
<circle cx="390.80" cy="373.50" r="3.25" fill="#9696c8" stroke="#0d0d1c" stroke-width="1.3"/>
<circle cx="397.00" cy="377.30" r="3.25" fill="#9696c8" stroke="#0d0d1c" stroke-width="1.3"/>
<circle cx="372.70" cy="380.20" r="3.25" fill="#9696c8" stroke="#0d0d1c" stroke-width="1.3"/>
<circle cx="378.30" cy="384.50" r="3.25" fill="#9696c8" stroke="#0d0d1c" stroke-width="1.3"/>
<circle cx="384.90" cy="382.30" r="3.25" fill="#9696c8" stroke="#0d0d1c" stroke-width="1.3"/>
<circle cx="391.40" cy="381.30" r="3.25" fill="#9696c8" stroke="#0d0d1c" stroke-width="1.3"/>
<circle cx="397.70" cy="384.50" r="3.25" fill="#9696c8" stroke="#0d0d1c" stroke-width="1.3"/>
<circle cx="403.00" cy="379.70" r="3.25" fill="#9696c8" stroke="#0d0d1c" stroke-width="1.3"/>
<circle cx="427.80" cy="328.00" r="3.25" fill="#e2e2f2" stroke="#0d0d1c" stroke-width="1.3"/>
<circle cx="427.80" cy="333.90" r="3.25" fill="#e2e2f2" stroke="#0d0d1c" stroke-width="1.3"/>
<circle cx="427.80" cy="341.10" r="3.25" fill="#e2e2f2" stroke="#0d0d1c" stroke-width="1.3"/>
<circle cx="427.80" cy="346.00" r="3.25" fill="#e2e2f2" stroke="#0d0d1c" stroke-width="1.3"/>
<circle cx="427.80" cy="362.80" r="3.25" fill="#e2e2f2" stroke="#0d0d1c" stroke-width="1.3"/>
<circle cx="427.50" cy="373.10" r="3.25" fill="#e2e2f2" stroke="#0d0d1c" stroke-width="1.3"/>
<circle cx="420.40" cy="376.50" r="3.25" fill="#e2e2f2" stroke="#0d0d1c" stroke-width="1.3"/>
<circle cx="434.90" cy="374.80" r="3.25" fill="#e2e2f2" stroke="#0d0d1c" stroke-width="1.3"/>
<circle cx="425.80" cy="380.50" r="3.25" fill="#e2e2f2" stroke="#0d0d1c" stroke-width="1.3"/>
<circle cx="419.30" cy="383.70" r="3.25" fill="#e2e2f2" stroke="#0d0d1c" stroke-width="1.3"/>
<circle cx="426.10" cy="384.80" r="3.25" fill="#e2e2f2" stroke="#0d0d1c" stroke-width="1.3"/>
<circle cx="433.00" cy="383.40" r="3.25" fill="#e2e2f2" stroke="#0d0d1c" stroke-width="1.3"/>
<circle cx="439.80" cy="384.20" r="3.25" fill="#e2e2f2" stroke="#0d0d1c" stroke-width="1.3"/>
<circle cx="473.40" cy="356.80" r="3.25" fill="#ffffff" stroke="#0d0d1c" stroke-width="1.3"/>
<circle cx="466.80" cy="360.90" r="3.25" fill="#ffffff" stroke="#0d0d1c" stroke-width="1.3"/>
<circle cx="480.40" cy="361.10" r="3.25" fill="#ffffff" stroke="#0d0d1c" stroke-width="1.3"/>
<circle cx="473.40" cy="362.50" r="3.25" fill="#ffffff" stroke="#0d0d1c" stroke-width="1.3"/>
<circle cx="473.20" cy="367.50" r="3.25" fill="#ffffff" stroke="#0d0d1c" stroke-width="1.3"/>
<circle cx="456.10" cy="378.40" r="3.25" fill="#ffffff" stroke="#0d0d1c" stroke-width="1.3"/>
<circle cx="463.10" cy="377.30" r="3.25" fill="#ffffff" stroke="#0d0d1c" stroke-width="1.3"/>
<circle cx="469.40" cy="378.20" r="3.25" fill="#ffffff" stroke="#0d0d1c" stroke-width="1.3"/>
<circle cx="476.90" cy="379.60" r="3.25" fill="#ffffff" stroke="#0d0d1c" stroke-width="1.3"/>
<circle cx="483.30" cy="379.80" r="3.25" fill="#ffffff" stroke="#0d0d1c" stroke-width="1.3"/>
<circle cx="490.20" cy="380.20" r="3.25" fill="#ffffff" stroke="#0d0d1c" stroke-width="1.3"/>
<circle cx="456.10" cy="384.00" r="3.25" fill="#ffffff" stroke="#0d0d1c" stroke-width="1.3"/>
<circle cx="462.80" cy="384.20" r="3.25" fill="#ffffff" stroke="#0d0d1c" stroke-width="1.3"/>
<circle cx="469.40" cy="384.80" r="3.25" fill="#ffffff" stroke="#0d0d1c" stroke-width="1.3"/>
<circle cx="476.70" cy="385.10" r="3.25" fill="#ffffff" stroke="#0d0d1c" stroke-width="1.3"/>
<circle cx="483.30" cy="383.30" r="3.25" fill="#ffffff" stroke="#0d0d1c" stroke-width="1.3"/>
<line x1="330.2" y1="338.2" x2="359.7" y2="338.2" stroke="#a3282e" stroke-width="2.0"/>
<line x1="374.6" y1="365.6" x2="403.9" y2="365.6" stroke="#a3282e" stroke-width="2.0"/>
<line x1="414.1" y1="358.6" x2="443.8" y2="358.6" stroke="#a3282e" stroke-width="2.0"/>
<line x1="459" y1="373.3" x2="488.2" y2="373.3" stroke="#a3282e" stroke-width="2.0"/>
<path d="M346.2,243.3 V237.5 H479.6 V243.3" fill="none" stroke="#161616" stroke-width="1.25"/>
<path d="M346.2,256.7 V251.3 H425.8 V256.7" fill="none" stroke="#161616" stroke-width="1.25"/>
<path d="M346.2,269.5 V263.9 H385.6 V269.5" fill="none" stroke="#161616" stroke-width="1.25"/>
<path d="M387.7,305.1 V299.6 H470 V305.1" fill="none" stroke="#161616" stroke-width="1.25"/>
<path d="M427.7,320.9 V315.4 H469.2 V320.9" fill="none" stroke="#161616" stroke-width="1.25"/>
<text x="412.5" y="241.5" font-size="20" text-anchor="middle" font-weight="normal" fill="#111" >**</text>
<text x="387.5" y="246.6" font-size="11.5" text-anchor="middle" font-weight="normal" fill="#222" >ns</text>
<text x="369.1" y="268.3" font-size="20" text-anchor="middle" font-weight="normal" fill="#111" >**</text>
<text x="431" y="303.9" font-size="20" text-anchor="middle" font-weight="normal" fill="#111" >*</text>
<text x="450.9" y="319.3" font-size="20" text-anchor="middle" font-weight="normal" fill="#111" >*</text>
<text x="345.5" y="400.4" font-size="10.4" text-anchor="middle" font-weight="normal" fill="#222" >WT</text>
<text x="370.2" y="400.4" font-size="10.4" text-anchor="start" fill="#222">p38γ<tspan font-size="7.6" dy="-3.00">−/−</tspan></text>
<text x="413.4" y="400.4" font-size="10.4" text-anchor="start" fill="#222">p38δ<tspan font-size="7.6" dy="-3.00">−/−</tspan></text>
<text x="456.7" y="400.4" font-size="10.4" text-anchor="start" fill="#222">p38γ/δ<tspan font-size="7.6" dy="-3.00">−/−</tspan></text>
<rect x="77.5" y="441.7" width="10.6" height="5.2" fill="#b3cfa1" stroke="#1a1a1a" stroke-width="1"/>
<text x="91.6" y="448.6" font-size="10.6" fill="#222" textLength="35.0" lengthAdjust="spacing">&gt;4 mm</text>
<text x="126.4" y="445.2" font-size="7" fill="#222">3</text>
<rect x="141" y="441.7" width="10.6" height="5.2" fill="#c2378e" stroke="#1a1a1a" stroke-width="1"/>
<text x="155.5" y="448.6" font-size="10.6" fill="#222" textLength="42.4" lengthAdjust="spacing">2–4 mm</text>
<text x="197.8" y="445.2" font-size="7" fill="#222">3</text>
<rect x="213" y="441.7" width="10.6" height="5.2" fill="#262660" stroke="#1a1a1a" stroke-width="1"/>
<text x="227.6" y="448.6" font-size="10.6" fill="#222" textLength="35.4" lengthAdjust="spacing">&lt;2 mm</text>
<text x="263.0" y="445.2" font-size="7" fill="#222">3</text>
<path d="M86.3,461.1 V575.6 H246.4" fill="none" stroke="#111" stroke-width="1.1"/>
<line x1="84.6" y1="575.50" x2="86.3" y2="575.50" stroke="#111" stroke-width="1"/>
<text x="84.2" y="580.8" font-size="10.8" text-anchor="end" font-weight="normal" fill="#222" >0</text>
<line x1="84.6" y1="554.60" x2="86.3" y2="554.60" stroke="#111" stroke-width="1"/>
<text x="84.2" y="559.9" font-size="10.8" text-anchor="end" font-weight="normal" fill="#222" >20</text>
<line x1="84.6" y1="533.70" x2="86.3" y2="533.70" stroke="#111" stroke-width="1"/>
<text x="84.2" y="539.0" font-size="10.8" text-anchor="end" font-weight="normal" fill="#222" >40</text>
<line x1="84.6" y1="512.80" x2="86.3" y2="512.80" stroke="#111" stroke-width="1"/>
<text x="84.2" y="518.0999999999999" font-size="10.8" text-anchor="end" font-weight="normal" fill="#222" >60</text>
<line x1="84.6" y1="491.90" x2="86.3" y2="491.90" stroke="#111" stroke-width="1"/>
<text x="84.2" y="497.2" font-size="10.8" text-anchor="end" font-weight="normal" fill="#222" >80</text>
<line x1="84.6" y1="471.00" x2="86.3" y2="471.00" stroke="#111" stroke-width="1"/>
<text x="84.2" y="476.3" font-size="10.8" text-anchor="end" font-weight="normal" fill="#222" >100</text>
<text transform="translate(59.3,514.5) rotate(-90)" font-size="11.6" text-anchor="middle" fill="#222">Tumor size distribution (%)</text>
<rect x="100.2" y="471" width="21.0" height="104.5" fill="#b3cfa1" stroke="#111" stroke-width="1.1"/>
<rect x="100.2" y="540.5" width="21.0" height="15.3" fill="#c2378e" stroke="#111" stroke-width="1.1"/>
<rect x="100.2" y="555.8" width="21.0" height="19.7" fill="#262660" stroke="#111" stroke-width="1.1"/>
<rect x="134" y="471" width="21.2" height="104.5" fill="#b3cfa1" stroke="#111" stroke-width="1.1"/>
<rect x="134" y="515.5" width="21.2" height="20.3" fill="#c2378e" stroke="#111" stroke-width="1.1"/>
<rect x="134" y="535.8" width="21.2" height="39.7" fill="#262660" stroke="#111" stroke-width="1.1"/>
<rect x="171.6" y="471" width="20.9" height="104.5" fill="#b3cfa1" stroke="#111" stroke-width="1.1"/>
<rect x="171.6" y="538.4" width="20.9" height="12.7" fill="#c2378e" stroke="#111" stroke-width="1.1"/>
<rect x="171.6" y="551.1" width="20.9" height="24.4" fill="#262660" stroke="#111" stroke-width="1.1"/>
<rect x="211.2" y="471" width="21.0" height="104.5" fill="#b3cfa1" stroke="#111" stroke-width="1.1"/>
<rect x="211.2" y="528.9" width="21.0" height="13.1" fill="#c2378e" stroke="#111" stroke-width="1.1"/>
<rect x="211.2" y="542" width="21.0" height="33.5" fill="#262660" stroke="#111" stroke-width="1.1"/>
<text x="111.5" y="590" font-size="10.4" text-anchor="middle" font-weight="normal" fill="#222" >WT</text>
<text x="130.2" y="590" font-size="10.4" text-anchor="start" fill="#222">p38γ<tspan font-size="7.6" dy="-3.00">−/−</tspan></text>
<text x="167.2" y="590" font-size="10.4" text-anchor="start" fill="#222">p38δ<tspan font-size="7.6" dy="-3.00">−/−</tspan></text>
<text x="203.4" y="590" font-size="10.4" text-anchor="start" fill="#222">p38γ/δ<tspan font-size="7.6" dy="-3.00">−/−</tspan></text>
<path d="M333,452.4 V567.3 H488" fill="none" stroke="#111" stroke-width="1.1"/>
<line x1="331.2" y1="567.20" x2="333" y2="567.20" stroke="#111" stroke-width="1"/>
<text x="329.8" y="572.7" font-size="10.8" text-anchor="end" font-weight="normal" fill="#222" >0</text>
<line x1="332" y1="555.78" x2="333" y2="555.78" stroke="#111" stroke-width="1"/>
<line x1="331.2" y1="544.36" x2="333" y2="544.36" stroke="#111" stroke-width="1"/>
<text x="329.8" y="549.86" font-size="10.8" text-anchor="end" font-weight="normal" fill="#222" >1</text>
<line x1="332" y1="532.94" x2="333" y2="532.94" stroke="#111" stroke-width="1"/>
<line x1="331.2" y1="521.52" x2="333" y2="521.52" stroke="#111" stroke-width="1"/>
<text x="329.8" y="527.0200000000001" font-size="10.8" text-anchor="end" font-weight="normal" fill="#222" >2</text>
<line x1="332" y1="510.10" x2="333" y2="510.10" stroke="#111" stroke-width="1"/>
<line x1="331.2" y1="498.68" x2="333" y2="498.68" stroke="#111" stroke-width="1"/>
<text x="329.8" y="504.18000000000006" font-size="10.8" text-anchor="end" font-weight="normal" fill="#222" >3</text>
<line x1="332" y1="487.26" x2="333" y2="487.26" stroke="#111" stroke-width="1"/>
<line x1="331.2" y1="475.84" x2="333" y2="475.84" stroke="#111" stroke-width="1"/>
<text x="329.8" y="481.34000000000003" font-size="10.8" text-anchor="end" font-weight="normal" fill="#222" >4</text>
<line x1="332" y1="464.42" x2="333" y2="464.42" stroke="#111" stroke-width="1"/>
<line x1="331.2" y1="453.00" x2="333" y2="453.00" stroke="#111" stroke-width="1"/>
<text x="329.8" y="458.50000000000006" font-size="10.8" text-anchor="end" font-weight="normal" fill="#222" >5</text>
<text transform="translate(316.8,513) rotate(-90)" font-size="11.3" text-anchor="middle" fill="#222">Tumor load</text>
<line x1="359.6" y1="469.5" x2="359.6" y2="494.3" stroke="#2a2a2a" stroke-width="1.2"/>
<line x1="358.20000000000005" y1="470.0" x2="361.0" y2="470.0" stroke="#2a2a2a" stroke-width="1"/>
<rect x="349" y="494.3" width="22.0" height="72.9" fill="#25255a" stroke="#1a1a1a" stroke-width="1.1"/>
<line x1="390.8" y1="488.6" x2="390.8" y2="506.1" stroke="#2a2a2a" stroke-width="1.2"/>
<line x1="389.40000000000003" y1="489.1" x2="392.2" y2="489.1" stroke="#2a2a2a" stroke-width="1"/>
<rect x="380.1" y="506.1" width="22.1" height="61.1" fill="#7e7ec2" stroke="#1a1a1a" stroke-width="1.1"/>
<line x1="423.6" y1="466.8" x2="423.6" y2="494.4" stroke="#2a2a2a" stroke-width="1.2"/>
<line x1="422.20000000000005" y1="467.3" x2="425.0" y2="467.3" stroke="#2a2a2a" stroke-width="1"/>
<rect x="412.7" y="494.4" width="21.9" height="72.8" fill="#d6d8ee" stroke="#1a1a1a" stroke-width="1.1"/>
<line x1="457.5" y1="481" x2="457.5" y2="501.5" stroke="#2a2a2a" stroke-width="1.2"/>
<line x1="456.1" y1="481.5" x2="458.9" y2="481.5" stroke="#2a2a2a" stroke-width="1"/>
<rect x="446" y="501.5" width="22.3" height="65.7" fill="#ffffff" stroke="#1a1a1a" stroke-width="1.1"/>
<text x="391.5" y="485.2" font-size="11.5" text-anchor="middle" font-weight="normal" fill="#222" >ns</text>
<text x="424.5" y="463.6" font-size="11.5" text-anchor="middle" font-weight="normal" fill="#222" >ns</text>
<text x="458.6" y="477.2" font-size="11.5" text-anchor="middle" font-weight="normal" fill="#222" >ns</text>
<text x="359.5" y="580.5" font-size="10.4" text-anchor="middle" font-weight="normal" fill="#222" >WT</text>
<text x="375.3" y="580.5" font-size="10.4" text-anchor="start" fill="#222">p38γ<tspan font-size="7.6" dy="-3.00">−/−</tspan></text>
<text x="411" y="580.5" font-size="10.4" text-anchor="start" fill="#222">p38δ<tspan font-size="7.6" dy="-3.00">−/−</tspan></text>
<text x="448.3" y="580.5" font-size="10.4" text-anchor="start" fill="#222">p38γ/δ<tspan font-size="7.6" dy="-3.00">−/−</tspan></text>
<rect x="0.5" y="0.5" width="519" height="612" fill="none" stroke="#6c6c6c" stroke-width="1"/>
<rect x="1.5" y="1.5" width="517" height="610" fill="none" stroke="#b4b4b4" stroke-width="1"/>
</svg></body></html>
